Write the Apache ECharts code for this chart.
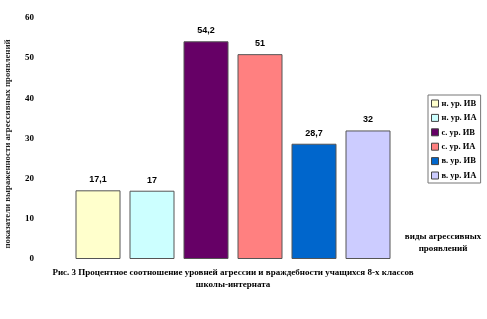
<!DOCTYPE html>
<html><head><meta charset="utf-8">
<script src="https://cdn.jsdelivr.net/npm/echarts@6/dist/echarts.min.js"></script>
<style>html,body{margin:0;padding:0;background:#fff}#c{width:487px;height:319px}</style>
</head><body><div id="c"></div>
<script>
var categories = ['н. ур. ИВ','н. ур. ИА','с. ур. ИВ','с. ур. ИА','в. ур. ИВ','в. ур. ИА'];
var values = [17.1, 17, 54.2, 51, 28.7, 32];
var colors = ['#FFFFCC','#CCFFFF','#660066','#FF8080','#0066CC','#CCCCFF'];
var yTicks = {min:0, max:60, interval:10};

var series = categories.map(function(name, i){
  var d = categories.map(function(_, j){ return j === i ? values[i] : '-'; });
  return {
    name: name, type: 'bar', stack: 'all', data: d, barWidth: 45,
    itemStyle: {color: colors[i], borderColor: '#555', borderWidth: 1},
    label: {show: true, position: 'top', distance: 6, fontFamily: 'Liberation Sans', fontWeight: 'bold', fontSize: 9, color: '#000',
      formatter: function(p){ return String(p.value).replace('.', ','); }},
    emphasis: {disabled: true}
  };
});

var chart = echarts.init(document.getElementById('c'), null, {renderer: 'canvas'});
chart.setOption({
  animation: false,
  grid: {left: 71, top: 18, width: 324, bottom: 60},
  xAxis: {type: 'category', data: categories, axisLine: {show: false}, axisTick: {show: false}, axisLabel: {show: false}},
  yAxis: {type: 'value', min: yTicks.min, max: yTicks.max, interval: yTicks.interval,
    splitLine: {show: false}, axisLine: {show: false}, axisTick: {show: false},
    axisLabel: {margin: 37, fontFamily: 'Liberation Serif', fontWeight: 'bold', fontSize: 9, color: '#000'}},
  legend: {
    orient: 'vertical', left: 428, top: 95, itemWidth: 7, itemHeight: 7, itemGap: 5.4,
    padding: [4, 4, 3, 3], borderColor: '#777', borderWidth: 1,
    icon: 'rect', selectedMode: false,
    textStyle: {fontFamily: 'Liberation Serif', fontWeight: 'bold', fontSize: 8.5, color: '#000', padding: [0,0,0,-2]},
    itemStyle: {borderColor: '#444', borderWidth: 1},
    data: categories
  },
  graphic: [
    {type: 'text', x: 8, y: 144, rotation: Math.PI/2,
     style: {text: 'показатели выраженности агрессивных проявлений', font: 'bold 8.8px "Liberation Serif"', fill: '#222', align: 'center', verticalAlign: 'middle'}},
    {type: 'text', x: 443, y: 231, style: {text: 'виды агрессивных\nпроявлений', font: 'bold 9px "Liberation Serif"', fill: '#000', align: 'center', lineHeight: 12}},
    {type: 'text', x: 233, y: 267, style: {text: 'Рис. 3 Процентное соотношение уровней агрессии и враждебности учащихся 8-х классов\nшколы-интерната', font: 'bold 9px "Liberation Serif"', fill: '#000', align: 'center', lineHeight: 12}}
  ],
  series: series
});
</script></body></html>
